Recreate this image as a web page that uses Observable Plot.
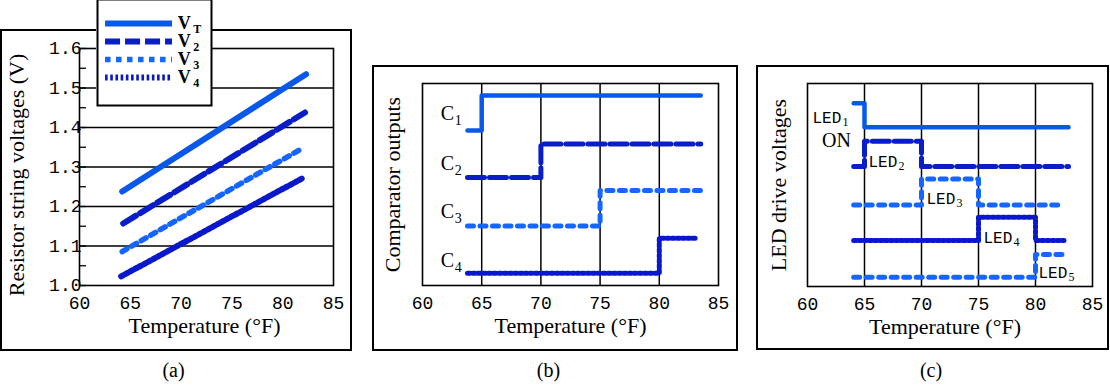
<!DOCTYPE html>
<html><head><meta charset="utf-8">
<script src="https://cdn.jsdelivr.net/npm/d3@7"></script>
<script src="https://cdn.jsdelivr.net/npm/@observablehq/plot@0.6"></script>
<style>
body{margin:0;background:#fff;}
#wrap{position:relative;width:1110px;height:385px;overflow:hidden;background:#fff;}
.box{position:absolute;border:2px solid #000;box-sizing:border-box;}
.panel{position:absolute;}
</style></head><body>
<div id="wrap">
 <div class="box" style="left:0;top:29px;width:352px;height:322px"></div>
 <div class="box" style="left:372px;top:65px;width:366px;height:286px"></div>
 <div class="box" style="left:756px;top:65px;width:353px;height:285px"></div>
 <div class="panel" id="pa" style="left:0;top:0"></div>
 <div class="panel" id="pb" style="left:372px;top:60px"></div>
 <div class="panel" id="pc" style="left:755px;top:60px"></div>
 <div class="panel" id="leg" style="left:96px;top:-2px"></div>
</div>
<script>
// ---------- data ----------
const temps = [60, 65, 70, 75, 80, 85];
const gridTemps = [65, 70, 75, 80];
const voltTicks = [1.0, 1.1, 1.2, 1.3, 1.4, 1.5, 1.6];
const voltGrid = [1.1, 1.2, 1.3, 1.4, 1.5];
const voltMinor = [1.0, 1.05, 1.1, 1.15, 1.2, 1.25, 1.3, 1.35, 1.4, 1.45, 1.5, 1.55, 1.6];

// (a) resistor string voltages
const vtTemp = [64.2, 82.3], vtVolt = [1.238, 1.535];
const v2Temp = [64.3, 82.2], v2Volt = [1.157, 1.438];
const v3Temp = [64.2, 81.7], v3Volt = [1.086, 1.344];
const v4Temp = [64.1, 81.9], v4Volt = [1.023, 1.271];
const legendKeys = ["T", "2", "3", "4"];

// (b) comparator outputs (relative level)
const c1Temp = [63.8, 65, 83.5], c1Level = [7.67, 9.41, 9.41];
const c2Temp = [63.8, 70, 83.5], c2Level = [5.35, 7.01, 7.01];
const c3Temp = [63.8, 75, 83.5], c3Level = [2.94, 4.70, 4.70];
const c4Temp = [63.8, 80, 83.1], c4Level = [0.61, 2.34, 2.34];
const cSubs = ["1", "2", "3", "4"];
const cLabelTemp = [62.1, 62.1, 62.1, 62.1];
const cLabelLevel = [8.51, 6.04, 3.66, 1.24];

// (c) LED drive voltages (relative level)
const led1Temp = [64.05, 65, 82.9], led1Level = [9.03, 7.85, 7.85];
const led2Temp = [64.05, 65, 70, 82.9], led2Level = [5.91, 7.16, 5.91, 5.91];
const led3Temp = [64.05, 70, 75, 82.3], led3Level = [4.02, 5.30, 4.02, 4.02];
const led4Temp = [64.05, 75, 80, 82.5], led4Level = [2.27, 3.41, 2.27, 2.27];
const led5Temp = [64.05, 80, 82.8], led5Level = [0.46, 1.58, 1.58];
const ledSubs = ["1", "2", "3", "4", "5"];
const ledLabelTemp = [60.44, 65.35, 70.44, 75.44, 80.26];
const ledLabelLevel = [8.33, 6.16, 4.33, 2.41, 0.69];
const onTemp = [62.54], onLevel = [7.2];

// ---------- styles ----------
const serif = "'Liberation Serif', 'Times New Roman', serif";
const mono = "'Liberation Mono', 'Courier New', monospace";
const st = {
  solid: {stroke: "#0a58ea", strokeWidth: 6},
  dash: {stroke: "#0a1ec8", strokeWidth: 6, strokeDasharray: "15,5"},
  dot: {stroke: "#1466ff", strokeWidth: 5.5, strokeDasharray: "5.5,5.5"},
  fine: {stroke: "#0a18cc", strokeWidth: 6, strokeDasharray: "2.6,2.6"}
};
const legendStyle = {T: st.solid, "2": st.dash, "3": st.dot, "4": st.fine};
const baseStyle = {background: "transparent", fontFamily: mono, fontSize: "18px", color: "black", overflow: "visible"};
const xOpts = {domain: [60, 85], ticks: temps, tickSize: 0, tickPadding: 11, label: null, tickFormat: d => String(d)};

// ---------- (a) ----------
const pa = Plot.plot({
  width: 355, height: 385, marginLeft: 79, marginRight: 22, marginTop: 48, marginBottom: 100,
  style: baseStyle,
  x: xOpts,
  y: {domain: [1, 1.6], ticks: voltTicks, tickSize: 0, tickPadding: -2, label: null, tickFormat: d => d.toFixed(1)},
  marks: [
    Plot.ruleY(voltGrid, {stroke: "black", strokeWidth: 1.6}),
    Plot.tickY(voltMinor, {stroke: "black", strokeWidth: 1.3, insetRight: 247}),
    Plot.frame({stroke: "black", strokeWidth: 1.6}),
    Plot.line(d3.zip(vtTemp, vtVolt), st.solid),
    Plot.line(d3.zip(v2Temp, v2Volt), st.dash),
    Plot.line(d3.zip(v3Temp, v3Volt), st.dot),
    Plot.line(d3.zip(v4Temp, v4Volt), st.fine),
    Plot.text(["Resistor string voltages (V)"], {text: d => d, frameAnchor: "left", textAnchor: "middle", rotate: -90, dx: -63, dy: 8, fontFamily: serif, fontSize: 22}),
    Plot.text(["Temperature (°F)"], {text: d => d, frameAnchor: "bottom", dx: -2, dy: 47, fontFamily: serif, fontSize: 22}),
    Plot.text(["(a)"], {text: d => d, frameAnchor: "bottom", dx: -33, dy: 91, fontFamily: serif, fontSize: 20})
  ]
});
document.getElementById("pa").appendChild(pa);

// legend
const leg = Plot.plot({
  width: 116, height: 108, margin: 0,
  style: {background: "white", overflow: "visible"},
  x: {domain: [0, 1], range: [0, 116], axis: null},
  y: {type: "point", domain: legendKeys, range: [15, 89], axis: null},
  marks: [
    Plot.frame({stroke: "black", strokeWidth: 2, inset: 1}),
    ...legendKeys.map(k => Plot.ruleY([k], {y: d => d, x1: 0.078, x2: 0.655, ...legendStyle[k]})),
    Plot.text(legendKeys, {x: 0.7, y: d => d, text: d => "V", textAnchor: "start", fontFamily: serif, fontWeight: "bold", fontSize: 18}),
    Plot.text(legendKeys, {x: 0.7, y: d => d, text: d => d, textAnchor: "start", dx: 15.5, dy: 6, fontFamily: serif, fontWeight: "bold", fontSize: 12})
  ]
});
document.getElementById("leg").appendChild(leg);

// ---------- (b) ----------
const pb = Plot.plot({
  width: 368, height: 325, marginLeft: 50, marginRight: 22, marginTop: 23, marginBottom: 100,
  style: baseStyle,
  x: xOpts,
  y: {domain: [0, 10], axis: null},
  marks: [
    Plot.ruleX(gridTemps, {stroke: "black", strokeWidth: 1.5}),
    Plot.frame({stroke: "black", strokeWidth: 1.6}),
    Plot.line(d3.zip(c1Temp, c1Level), {curve: "step-after", ...st.solid, strokeWidth: 4.5}),
    Plot.line(d3.zip(c2Temp, c2Level), {curve: "step-after", ...st.dash, strokeWidth: 5, strokeDasharray: "17,5"}),
    Plot.line(d3.zip(c3Temp, c3Level), {curve: "step-after", ...st.dot, strokeWidth: 5, strokeDasharray: "6,6.5"}),
    Plot.line(d3.zip(c4Temp, c4Level), {curve: "step-after", ...st.fine, strokeWidth: 5}),
    Plot.text(cSubs, {x: cLabelTemp, y: cLabelLevel, text: () => "C", fontFamily: serif, fontSize: 20}),
    Plot.text(cSubs, {x: cLabelTemp, y: cLabelLevel, text: d => d, dx: 11, dy: 7, fontFamily: serif, fontSize: 14}),
    Plot.text(["Comparator outputs"], {text: d => d, frameAnchor: "left", textAnchor: "middle", rotate: -90, dx: -30, fontFamily: serif, fontSize: 22}),
    Plot.text(["Temperature (°F)"], {text: d => d, frameAnchor: "bottom", dy: 47, fontFamily: serif, fontSize: 22}),
    Plot.text(["(b)"], {text: d => d, frameAnchor: "bottom", dx: -22, dy: 91, fontFamily: serif, fontSize: 20})
  ]
});
document.getElementById("pb").appendChild(pb);

// ---------- (c) ----------
const pc = Plot.plot({
  width: 355, height: 325, marginLeft: 52, marginRight: 18, marginTop: 23, marginBottom: 99,
  style: baseStyle,
  x: xOpts,
  y: {domain: [0, 10], axis: null},
  marks: [
    Plot.ruleX(gridTemps, {stroke: "black", strokeWidth: 1.5}),
    Plot.frame({stroke: "black", strokeWidth: 1.6}),
    Plot.line(d3.zip(led1Temp, led1Level), {curve: "step-after", ...st.solid, strokeWidth: 4.5}),
    Plot.line(d3.zip(led2Temp, led2Level), {curve: "step-after", ...st.dash, strokeWidth: 5, strokeDasharray: "17,5"}),
    Plot.line(d3.zip(led3Temp, led3Level), {curve: "step-after", ...st.dot, strokeWidth: 5, strokeDasharray: "6,6.5"}),
    Plot.line(d3.zip(led4Temp, led4Level), {curve: "step-after", ...st.fine, strokeWidth: 5}),
    Plot.line(d3.zip(led5Temp, led5Level), {curve: "step-after", ...st.dot, strokeWidth: 5, strokeDasharray: "6,6.5"}),
    Plot.text(ledSubs, {x: ledLabelTemp, y: ledLabelLevel, text: () => "LED", textAnchor: "start", fontFamily: mono, fontSize: 16}),
    Plot.text(ledSubs, {x: ledLabelTemp, y: ledLabelLevel, text: d => d, textAnchor: "start", dx: 30, dy: 5, fontFamily: serif, fontSize: 12}),
    Plot.text(["ON"], {x: onTemp, y: onLevel, text: d => d, fontFamily: serif, fontSize: 20}),
    Plot.text(["LED drive voltages"], {text: d => d, frameAnchor: "left", textAnchor: "middle", rotate: -90, dx: -29, fontFamily: serif, fontSize: 22}),
    Plot.text(["Temperature (°F)"], {text: d => d, frameAnchor: "bottom", dx: -5, dy: 47, fontFamily: serif, fontSize: 22}),
    Plot.text(["(c)"], {text: d => d, frameAnchor: "bottom", dx: -19, dy: 90, fontFamily: serif, fontSize: 20})
  ]
});
document.getElementById("pc").appendChild(pc);
</script>
</body></html>
